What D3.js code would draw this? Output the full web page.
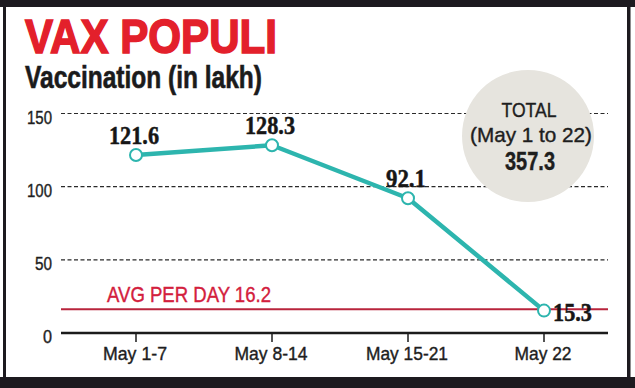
<!DOCTYPE html>
<html><head><meta charset="utf-8">
<script src="https://cdn.jsdelivr.net/npm/d3@7"></script>
<style>html,body{margin:0;padding:0;background:#fff}svg{display:block}</style>
</head><body>
<svg id="c" width="635" height="388"></svg>
<script>
const categories = ["May 1-7", "May 8-14", "May 15-21", "May 22"];
const values = [121.6, 128.3, 92.1, 15.3];
const labelText = ["121.6", "128.3", "92.1", "15.3"];
const yTicks = [0, 50, 100, 150];
const avgPerDay = 16.2;
const totalLines = ["TOTAL", "(May 1 to 22)", "357.3"];

const svg = d3.select("#c");
const sans = "'Liberation Sans', Arial, sans-serif";
const serif = "'Liberation Serif', 'Times New Roman', serif";

// frame
svg.append("rect").attr("x",0).attr("y",0).attr("width",635).attr("height",388).attr("fill","#fff");
svg.append("rect").attr("x",0).attr("y",0).attr("width",635).attr("height",7).attr("fill","#1d1a1f");
svg.append("rect").attr("x",0).attr("y",377).attr("width",635).attr("height",11).attr("fill","#1d1a1f");
svg.append("rect").attr("x",3).attr("y",0).attr("width",3).attr("height",388).attr("fill","#1d1a1f");
svg.append("rect").attr("x",627).attr("y",0).attr("width",3.5).attr("height",388).attr("fill","#1d1a1f");

// titles
svg.append("text").attr("x",25).attr("y",53).text("VAX POPULI")
  .attr("font-family",sans).attr("font-weight","bold").attr("font-size",49)
  .attr("fill","#e3202b").attr("stroke","#e3202b").attr("stroke-width",1.6)
  .attr("textLength",252).attr("lengthAdjust","spacingAndGlyphs");
svg.append("text").attr("x",25).attr("y",88).text("Vaccination (in lakh)")
  .attr("font-family",sans).attr("font-weight","bold").attr("font-size",31)
  .attr("fill","#1b1b1b").attr("stroke","#1b1b1b").attr("stroke-width",0.6)
  .attr("textLength",237).attr("lengthAdjust","spacingAndGlyphs");

const x = d3.scalePoint().domain(categories).range([136, 544]);
const y = d3.scaleLinear().domain([0, 150]).range([333, 113.5]);
const left = 61, right = 608;

// gridlines
svg.append("g").selectAll("line").data(yTicks.filter(d => d > 0)).join("line")
  .attr("x1", left).attr("x2", right)
  .attr("y1", d => y(d)).attr("y2", d => y(d))
  .attr("stroke", "#2a2a2a").attr("stroke-width", 1.2).attr("stroke-dasharray", "4,2.5");

// y tick labels
const tickW = {0: 9, 50: 17, 100: 25, 150: 25};
svg.append("g").selectAll("text").data(yTicks).join("text")
  .attr("x", 52).attr("y", d => y(d) + 10).attr("text-anchor", "end")
  .text(d => d).attr("font-family", sans).attr("font-size", 19).attr("fill", "#1e1e1e")
  .attr("stroke", "#1e1e1e").attr("stroke-width", 0.4)
  .attr("textLength", d => tickW[d]).attr("lengthAdjust", "spacingAndGlyphs");

// total circle
svg.append("circle").attr("cx", 528).attr("cy", 136).attr("r", 66).attr("fill", "#e6e4de");
const tl = svg.append("g").attr("font-family", sans).attr("fill", "#1e1e1e").attr("text-anchor", "middle")
  .attr("stroke", "#1e1e1e").attr("stroke-width", 0.4);
tl.append("text").attr("x", 529).attr("y", 117).text(totalLines[0]).attr("font-size", 21)
  .attr("textLength", 55).attr("lengthAdjust", "spacingAndGlyphs");
tl.append("text").attr("x", 531).attr("y", 142).text(totalLines[1]).attr("font-size", 21)
  .attr("textLength", 122).attr("lengthAdjust", "spacingAndGlyphs");
tl.append("text").attr("x", 530).attr("y", 170).text(totalLines[2]).attr("font-size", 25).attr("font-weight", "bold")
  .attr("textLength", 50).attr("lengthAdjust", "spacingAndGlyphs");

// avg line
svg.append("line").attr("x1", left).attr("x2", right).attr("y1", y(avgPerDay)).attr("y2", y(avgPerDay))
  .attr("stroke", "#b8243c").attr("stroke-width", 2);
svg.append("text").attr("x", 107).attr("y", y(avgPerDay) - 7).text("AVG PER DAY " + avgPerDay)
  .attr("font-family", sans).attr("font-size", 22).attr("fill", "#d3203d")
  .attr("stroke", "#d3203d").attr("stroke-width", 0.4)
  .attr("textLength", 164).attr("lengthAdjust", "spacingAndGlyphs");

// x axis
svg.append("line").attr("x1", left).attr("x2", right).attr("y1", y(0)).attr("y2", y(0))
  .attr("stroke", "#1b1b1b").attr("stroke-width", 2.5);
svg.append("g").selectAll("line").data(categories).join("line")
  .attr("x1", d => x(d)).attr("x2", d => x(d)).attr("y1", y(0)).attr("y2", y(0) + 9)
  .attr("stroke", "#1b1b1b").attr("stroke-width", 1.5);
const catW = {"May 1-7": 64, "May 8-14": 73, "May 15-21": 82, "May 22": 57};
svg.append("g").selectAll("text").data(categories).join("text")
  .attr("x", d => x(d) - 1).attr("y", 360).attr("text-anchor", "middle").text(d => d)
  .attr("font-family", sans).attr("font-size", 19).attr("fill", "#1e1e1e")
  .attr("stroke", "#1e1e1e").attr("stroke-width", 0.4)
  .attr("textLength", d => catW[d]).attr("lengthAdjust", "spacingAndGlyphs");

// series line
const pts = categories.map((c, i) => ({c, v: values[i], t: labelText[i]}));
svg.append("path").datum(pts)
  .attr("d", d3.line().x(d => x(d.c)).y(d => y(d.v)))
  .attr("fill", "none").attr("stroke", "#2db5ae").attr("stroke-width", 4.5).attr("stroke-linejoin", "round");
svg.append("g").selectAll("circle").data(pts).join("circle")
  .attr("cx", d => x(d.c)).attr("cy", d => y(d.v)).attr("r", 6)
  .attr("fill", "#fff").attr("stroke", "#2db5ae").attr("stroke-width", 2);

// data labels
const lblW = [50, 50, 40, 39];
svg.append("g").selectAll("text").data(pts).join("text")
  .attr("x", (d, i) => i === 3 ? x(d.c) + 9 : x(d.c) - 2)
  .attr("y", (d, i) => i === 3 ? y(d.v) + 10 : y(d.v) - 11)
  .attr("text-anchor", (d, i) => i === 3 ? "start" : "middle")
  .text(d => d.t).attr("font-family", serif).attr("font-weight", "bold").attr("font-size", 25)
  .attr("fill", "#161616").attr("stroke", "#161616").attr("stroke-width", 0.5)
  .attr("textLength", (d, i) => lblW[i]).attr("lengthAdjust", "spacingAndGlyphs");
</script>
</body></html>
